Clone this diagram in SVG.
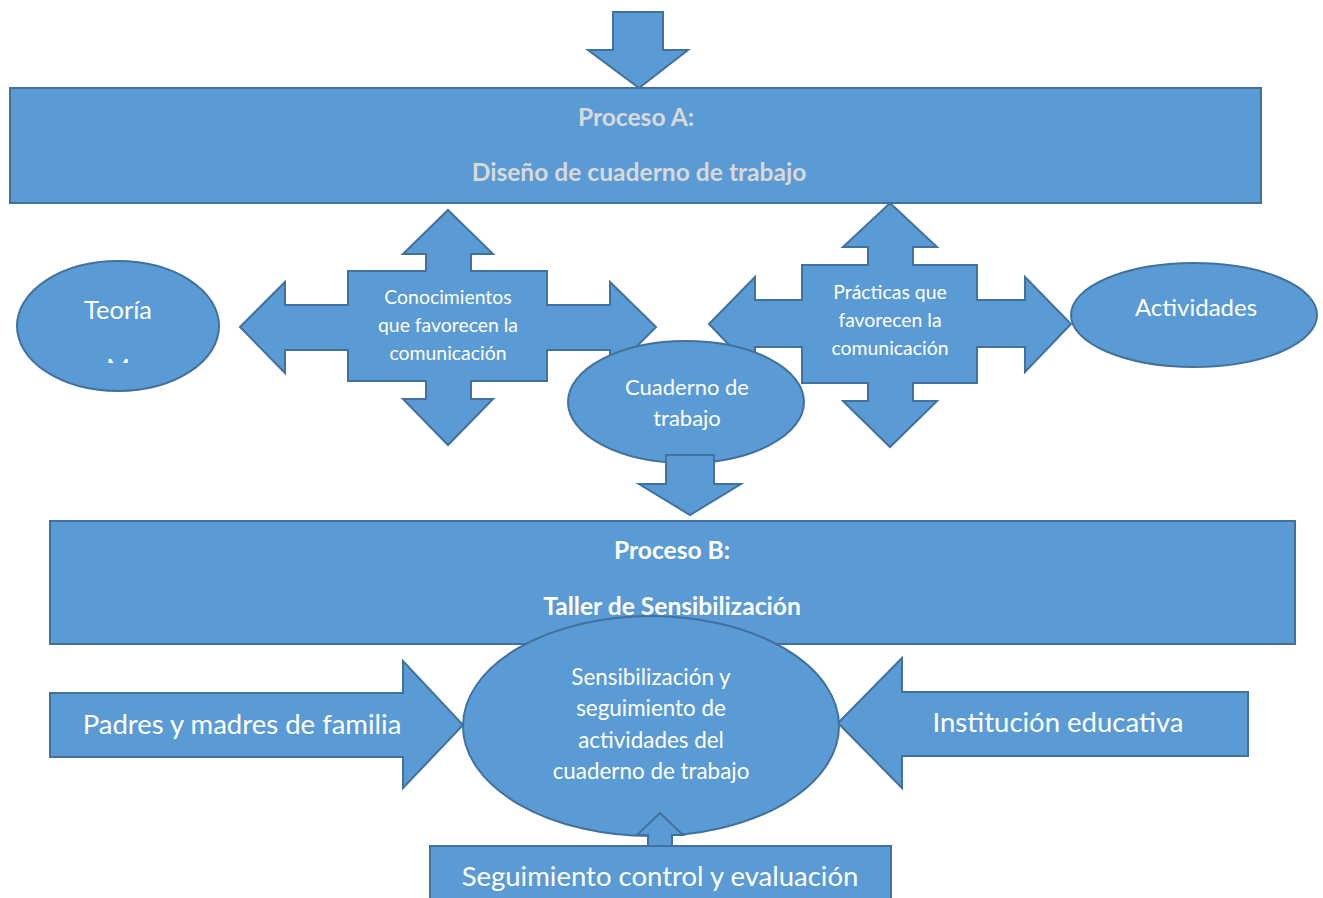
<svg xmlns="http://www.w3.org/2000/svg" width="1323" height="898" viewBox="0 0 1323 898">
<style>
.s{fill:#5B9BD5;stroke:#41719C;stroke-width:2;stroke-linejoin:miter}
text{font-family:Lato,"Noto Sans",sans-serif;fill:#FFFFFF;text-anchor:middle}
.b{font-weight:bold;font-size:24.6px}
.g{fill:#D9D9D9}
.m{font-size:19.4px}
.l{font-size:22.4px}
.xl{font-size:27.5px}
</style>
<defs>
<clipPath id="mclip"><rect x="95" y="350" width="50" height="13"/></clipPath>
</defs>
<rect width="1323" height="898" fill="#FFFFFF"/>
<g id="connectors">
<path id="arrow-top" class="s" d="M613,12 H663 V50 H688 L639,88 L588,50 H613 Z"/>
</g>
<g id="procesoA">
<rect class="s" x="10" y="88" width="1251" height="115"/>
<text class="b g" x="636" y="126">Proceso A:</text>
<text class="b g" x="639" y="181">Diseño de cuaderno de trabajo</text>
</g>
<g id="teoria">
<ellipse class="s" cx="118" cy="326" rx="101" ry="65"/>
<text x="118" y="319" style="font-size:25.5px">Teoría</text>
<text x="118" y="377" style="font-size:25.5px" clip-path="url(#mclip)">M</text>
</g>
<g id="conocimientos">
<path class="s" d="M448,210 L493,254 H471 V271 H547 V305 H610 V282 L656,327 L610,373 V350 H547 V381 H471 V399 H493 L448,445 L403,399 H426 V381 H348 V350 H285 V373 L240,327 L285,282 V305 H348 V271 H426 V254 H403 Z"/>
<text class="m" x="448" y="304">Conocimientos</text>
<text class="m" x="448" y="332">que favorecen  la</text>
<text class="m" x="448" y="360">comunicación</text>
</g>
<g id="practicas">
<path class="s" d="M890,203 L937,247 H913 V265 H977 V300 H1025 V277 L1071,324 L1025,372 V347 H977 V383 H913 V401 H937 L890,447 L843,401 H868 V383 H802 V347 H755 V372 L709,324 L755,277 V300 H802 V265 H868 V247 H843 Z"/>
<text class="m" x="890" y="299">Prácticas que</text>
<text class="m" x="890" y="327">favorecen la</text>
<text class="m" x="890" y="355">comunicación</text>
</g>
<g id="actividades">
<ellipse class="s" cx="1194" cy="315" rx="123" ry="52"/>
<text x="1196" y="316" style="font-size:24px">Actividades</text>
</g>
<g id="cuaderno">
<ellipse class="s" cx="686" cy="402" rx="118" ry="61"/>
<text x="687" y="395" style="font-size:22px">Cuaderno de</text>
<text x="687" y="426" style="font-size:22px">trabajo</text>
</g>
<g id="arrow-cuaderno">
<path class="s" d="M666,455 H714 V484 H741 L690,515 L639,484 H666 Z"/>
</g>
<g id="procesoB">
<rect class="s" x="50" y="521" width="1245" height="123"/>
<text class="b" x="672" y="559">Proceso B:</text>
<text class="b" x="672" y="615">Taller de Sensibilización</text>
</g>
<g id="padres">
<path class="s" d="M50,693 H403 V661 L463,725 L403,788 V757 H50 Z"/>
<text class="xl" x="242" y="734">Padres y madres de familia</text>
</g>
<g id="institucion">
<path class="s" d="M1248,692 H902 V658 L838,723 L902,788 V756 H1248 Z"/>
<text class="xl" x="1058" y="732">Institución educativa</text>
</g>
<g id="sensibilizacion">
<ellipse class="s" cx="651" cy="726" rx="188" ry="110"/>
<text class="l" x="651" y="685">Sensibilización y</text>
<text class="l" x="651" y="716">seguimiento de</text>
<text class="l" x="651" y="748">actividades del</text>
<text class="l" x="651" y="779">cuaderno de trabajo</text>
</g>
<g id="seguimiento">
<path class="s" d="M648,846 V835 H637 L660,813 L683,835 H672 V846"/>
<rect class="s" x="430" y="846" width="461" height="60"/>
<text class="xl" x="660" y="886">Seguimiento control y evaluación</text>
</g>
</svg>
